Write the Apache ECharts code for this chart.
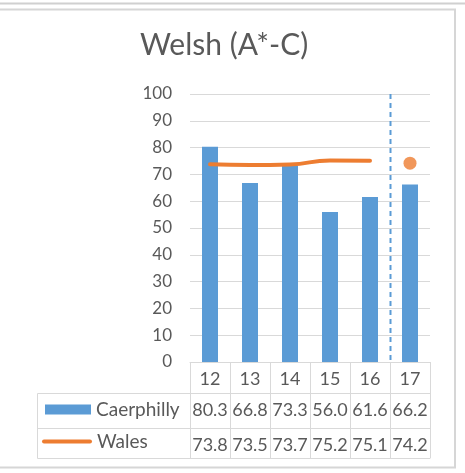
<!DOCTYPE html>
<html>
<head>
<meta charset="utf-8">
<script src="https://cdn.jsdelivr.net/npm/echarts@6/dist/echarts.min.js"></script>
<style>
  html, body { margin: 0; padding: 0; background: #fff; }
  #chart { width: 465px; height: 473px; }
</style>
</head>
<body>
<div id="chart"></div>
<script>
  // years (tick labels along the bottom)
  const years = ['12', '13', '14', '15', '16', '17']
  const caerphilly = [80.3, 66.8, 73.3, 56.0, 61.6, 66.2]
  const wales = [73.8, 73.5, 73.7, 75.2, 75.1, 74.2]
  const yTicks = [0, 100, 10] // min, max, interval
  const lastActual = 4 // line runs up to '16', '17' is a lone point

  const grey = '#595959'
  const rule = '#d9d9d9'
  const blue = '#5B9BD5'
  const orange = '#ED7D31'
  const font = 'Lato'

  const chart = echarts.init(document.getElementById('chart'))

  const tableAxis = (data, offset, tick, show) => ({
    type: 'category',
    data: data,
    position: 'bottom',
    offset: offset,
    axisLine: {show: true, lineStyle: {color: rule, width: 1}},
    axisTick: {show: tick > 0, interval: 0, length: tick, lineStyle: {color: rule}},
    axisLabel: {show: show, interval: 0, hideOverlap: false, color: grey, fontSize: 18, fontFamily: font, margin: 8},
    splitLine: {show: false}
  })

  const option = {
    animation: false,
    title: {
      text: 'Welsh (A*-C)',
      left: 140,
      top: 30,
      padding: 0,
      textStyle: {color: grey, fontSize: 30, fontWeight: 'normal', fontFamily: font}
    },
    legend: [
      {
        data: [{name: 'Caerphilly', icon: 'rect'}],
        left: 45, top: 400, padding: 0, itemWidth: 46, itemHeight: 10, itemGap: 0,
        textStyle: {color: grey, fontSize: 19, fontFamily: font}
      },
      {
        data: [{name: 'Wales', icon: 'path://M2,0 L48,0 A2,2 0 0 1 48,4 L2,4 A2,2 0 0 1 2,0 Z'}],
        left: 42, top: 432, padding: 0, itemWidth: 50, itemHeight: 10, itemGap: 0,
        textStyle: {color: grey, fontSize: 19, fontFamily: font}
      }
    ],
    grid: {left: 190, right: 35, top: 94, bottom: 111},
    xAxis: [
      tableAxis(years, 0, 31, true),
      tableAxis(caerphilly.map(v => v.toFixed(1)), 31, 35, true),
      tableAxis(wales.map(v => v.toFixed(1)), 66, 30, true),
      tableAxis(years, 96, 0, false)
    ],
    yAxis: {
      type: 'value',
      min: yTicks[0],
      max: yTicks[1],
      interval: yTicks[2],
      axisLine: {show: false},
      axisTick: {show: false},
      axisLabel: {color: grey, fontSize: 17, fontFamily: font, margin: 18},
      splitLine: {lineStyle: {color: rule, width: 1}}
    },
    series: [
      {
        name: 'Caerphilly',
        type: 'bar',
        data: caerphilly,
        barWidth: 16,
        itemStyle: {color: blue}
      },
      {
        name: 'Wales',
        type: 'line',
        data: wales.map((v, i) => i <= lastActual ? v : '-'),
        smooth: true,
        showSymbol: false,
        symbol: 'none',
        lineStyle: {color: orange, width: 4, cap: 'round'},
        itemStyle: {color: orange}
      },
      {
        name: 'Wales',
        type: 'scatter',
        data: wales.map((v, i) => i > lastActual ? v : '-'),
        symbolSize: 13,
        itemStyle: {color: orange}
      }
    ]
  }
  chart.setOption(option)

  // dashed divider between actual and projected years, plus table left column and frame
  const xa = chart.convertToPixel({xAxisIndex: 0}, years[lastActual])
  const xb = chart.convertToPixel({xAxisIndex: 0}, years[lastActual + 1])
  const xd = Math.round((xa + xb) / 2) + 0.5
  const yTop = chart.convertToPixel({yAxisIndex: 0}, yTicks[1])
  const yBot = chart.convertToPixel({yAxisIndex: 0}, yTicks[0])
  const tl = 37.5
  const tr = 190.5
  const hline = (y) => ({type: 'line', shape: {x1: tl, y1: y, x2: tr, y2: y}, style: {stroke: rule, lineWidth: 1}})

  chart.setOption({
    graphic: [
      {type: 'line', shape: {x1: 0, y1: 3.5, x2: 465, y2: 3.5}, style: {stroke: '#d0d0d0', lineWidth: 2}},
      {type: 'rect', shape: {x: -2, y: 9.5, width: 457, height: 458}, style: {fill: 'none', stroke: '#d6d6d6', lineWidth: 2}},
      {type: 'line', shape: {x1: xd, y1: yTop, x2: xd, y2: yBot}, style: {stroke: blue, lineWidth: 2, lineDash: [5, 4]}},
      hline(393.5),
      hline(428.5),
      hline(458.5),
      {type: 'line', shape: {x1: tl, y1: 393.5, x2: tl, y2: 458.5}, style: {stroke: rule, lineWidth: 1}}
    ]
  })
</script>
</body>
</html>
